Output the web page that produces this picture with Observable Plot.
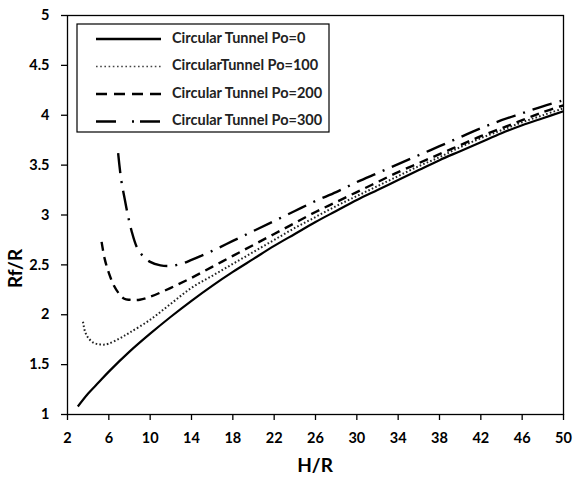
<!DOCTYPE html>
<html>
<head>
<meta charset="utf-8">
<script src="https://cdn.jsdelivr.net/npm/d3@7"></script>
<script src="https://cdn.jsdelivr.net/npm/@observablehq/plot@0.6"></script>
<style>
  html, body { margin: 0; padding: 0; background: #fff; }
  #chart { width: 573px; height: 485px; }
</style>
</head>
<body>
<div id="chart"></div>
<script>
// ---- data ----
const seriesNames = ["Circular Tunnel Po=0", "CircularTunnel Po=100", "Circular Tunnel Po=200", "Circular Tunnel Po=300"];

const hr0 = [3, 4, 5, 6, 8, 10, 12, 14, 16, 18, 20, 22, 24, 26, 28, 30, 32, 34, 36, 38, 40, 42, 44, 46, 48, 50];
const rf0 = [1.08, 1.21, 1.32, 1.43, 1.63, 1.81, 1.98, 2.14, 2.29, 2.43, 2.56, 2.69, 2.81, 2.93, 3.04, 3.15, 3.25, 3.35, 3.45, 3.55, 3.64, 3.73, 3.82, 3.90, 3.97, 4.04];

const hr100 = [3.5, 3.7, 4, 4.5, 5, 5.5, 6, 7, 8, 10, 12, 14, 16, 18, 20, 22, 24, 26, 28, 30, 32, 34, 36, 38, 40, 42, 44, 46, 48, 50];
const rf100 = [1.93, 1.83, 1.77, 1.72, 1.705, 1.70, 1.71, 1.76, 1.82, 1.95, 2.11, 2.27, 2.39, 2.51, 2.63, 2.75, 2.87, 2.98, 3.09, 3.19, 3.29, 3.39, 3.49, 3.58, 3.68, 3.77, 3.85, 3.93, 4.00, 4.07];

const hr200 = [5.3, 5.6, 6, 6.5, 7, 7.5, 8, 9, 10, 12, 14, 16, 18, 20, 22, 24, 26, 28, 30, 32, 34, 36, 38, 40, 42, 44, 46, 48, 50];
const rf200 = [2.73, 2.56, 2.42, 2.29, 2.21, 2.16, 2.15, 2.15, 2.18, 2.27, 2.37, 2.48, 2.59, 2.70, 2.81, 2.92, 3.03, 3.13, 3.23, 3.33, 3.43, 3.52, 3.61, 3.70, 3.79, 3.87, 3.95, 4.03, 4.10];

const hr300 = [6.9, 7.2, 7.5, 7.8, 8.2, 8.7, 9.2, 10, 11, 12, 13, 14, 16, 18, 20, 22, 24, 26, 28, 30, 32, 34, 36, 38, 40, 42, 44, 46, 48, 50];
const rf300 = [3.62, 3.35, 3.18, 3.02, 2.84, 2.68, 2.60, 2.53, 2.495, 2.49, 2.51, 2.55, 2.64, 2.74, 2.84, 2.94, 3.04, 3.14, 3.23, 3.33, 3.42, 3.51, 3.60, 3.69, 3.78, 3.87, 3.95, 4.02, 4.09, 4.15];

const xTicks = [2, 6, 10, 14, 18, 22, 26, 30, 34, 38, 42, 46, 50];
const yTicks = [1, 1.5, 2, 2.5, 3, 3.5, 4, 4.5, 5];
const xTitle = "H/R";
const yTitle = "Rf/R";

// ---- build tables ----
const toRows = (xs, ys) => xs.map((x, i) => ({x, y: ys[i]}));
const d0 = toRows(hr0, rf0);
const d100 = toRows(hr100, rf100);
const d200 = toRows(hr200, rf200);
const d300 = toRows(hr300, rf300);

const styles = [
  {stroke: "#000", strokeWidth: 2.2, strokeDasharray: null},
  {stroke: "#222", strokeWidth: 2, strokeDasharray: "1.6,2.2"},
  {stroke: "#000", strokeWidth: 2.4, strokeDasharray: "9,6"},
  {stroke: "#000", strokeWidth: 2.4, strokeDasharray: "20,8,2,8"}
];
const legendDash = [null, "1.6,2.6", "11,7", "20,16,2,6"];

const lineOpts = (s) => ({x: "x", y: "y", curve: "catmull-rom", stroke: s.stroke, strokeWidth: s.strokeWidth, strokeDasharray: s.strokeDasharray, strokeLinecap: "butt"});

const W = 573, H = 485;
const mL = 67, mR = 10, mT = 15, mB = 71;
const ff = "Lato, 'Open Sans', sans-serif";

const chart = Plot.plot({
  width: W,
  height: H,
  marginLeft: mL,
  marginRight: mR,
  marginTop: mT,
  marginBottom: mB,
  style: {fontFamily: ff, fontWeight: "bold", fontSize: "14.5px", background: "#fff", color: "#000"},
  x: {domain: [2, 50]},
  y: {domain: [1, 5]},
  marks: [
    Plot.line(d0, lineOpts(styles[0])),
    Plot.line(d100, lineOpts(styles[1])),
    Plot.line(d200, lineOpts(styles[2])),
    Plot.line(d300, lineOpts(styles[3])),
    Plot.frame({stroke: "#000", strokeWidth: 1.3}),
    Plot.axisX({ticks: xTicks, tickSize: 6, tickPadding: 12, label: null, fontSize: 14.5, fontWeight: "bold", strokeWidth: 1.3}),
    Plot.axisY({ticks: yTicks, tickSize: 6, tickPadding: 12, label: null, fontSize: 14.5, fontWeight: "bold", strokeWidth: 1.3, tickFormat: d => String(d)})
  ]
});

document.getElementById("chart").appendChild(chart);

// ---- axis titles & legend ----
const svg = d3.select(chart);

svg.append("text")
  .attr("x", mL + (W - mL - mR) / 2)
  .attr("y", 467)
  .style("text-anchor", "middle")
  .attr("dominant-baseline", "middle")
  .style("font-family", ff).style("font-weight", "bold").style("font-size", "19px")
  .attr("fill", "#000")
  .text(xTitle);

svg.append("text")
  .attr("transform", `translate(17,${mT + (H - mT - mB) / 2 + 54}) rotate(-90)`)
  .style("text-anchor", "middle")
  .attr("dominant-baseline", "middle")
  .style("font-family", ff).style("font-weight", "bold").style("font-size", "19px")
  .attr("fill", "#000")
  .text(yTitle);

const lg = svg.append("g");
lg.append("rect")
  .attr("x", 77).attr("y", 24).attr("width", 252).attr("height", 108)
  .attr("fill", "#fff").attr("stroke", "#000").attr("stroke-width", 1.2);

const rowY = [39, 66.5, 94, 121.5];
seriesNames.forEach((name, i) => {
  lg.append("line")
    .attr("x1", 96).attr("x2", 161).attr("y1", rowY[i]).attr("y2", rowY[i])
    .attr("stroke", i === 1 ? "#444" : "#000")
    .attr("stroke-width", i === 1 ? 1.6 : 2.4)
    .attr("stroke-dasharray", legendDash[i]);
  lg.append("text")
    .attr("x", 172).attr("y", rowY[i])
    .style("text-anchor", "start")
    .attr("dominant-baseline", "middle")
    .style("font-family", ff).style("font-weight", "bold").style("font-size", "14.5px")
    .attr("fill", "#222")
    .text(name);
});
</script>
</body>
</html>
